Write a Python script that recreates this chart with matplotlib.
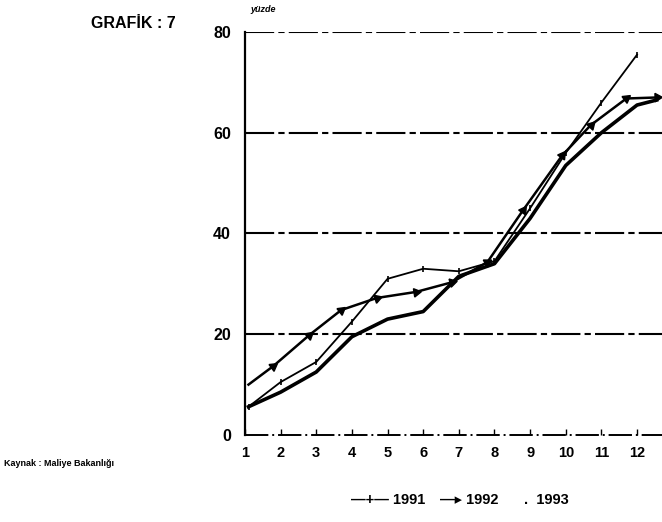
import numpy as np
import matplotlib.pyplot as plt

plt.rcParams['font.family'] = ['Liberation Sans', 'DejaVu Sans']
plt.rcParams['font.weight'] = 'bold'

# values (yuzde, by month)
months = [1, 2, 3, 4, 5, 6, 7, 8, 9, 10, 11, 12]
x_1991 = [1.1, 2, 3, 4, 5, 6, 7, 8, 9, 10, 11, 12]
y_1991 = [5.6, 10.5, 14.5, 22.5, 31, 33, 32.5, 34.5, 45, 56, 66, 75.5]

x_1992 = [1.1, 1.8, 2.8, 3.7, 4.7, 5.8, 6.8, 7.8, 8.8, 9.9, 10.7, 11.7, 12.55]
y_1992 = [10, 13.7, 19.8, 24.8, 27.2, 28.4, 30.3, 34.3, 44.6, 55.5, 61.5, 66.8, 67]

x_1993 = [1.1, 2, 3, 4, 5, 6, 7, 8, 9, 10, 11, 12, 12.55]
y_1993 = [5.6, 8.5, 12.5, 19.5, 23, 24.5, 31.5, 34, 43, 53.5, 60, 65.5, 66.5]

y_ticks = [0, 20, 40, 60, 80]

fig = plt.figure(figsize=(6.62, 5.22), dpi=100)
ax = fig.add_axes([0.370, 0.1667, 0.630, 0.772])
ax.set_xlim(1.1, 12.7)
ax.set_ylim(0, 80)

# dashed grid lines
for v in y_ticks[1:]:
    ax.axhline(v, color='black', lw=1.5, ls=(0, (14, 2, 3, 2)), zorder=1)
ax.axhline(0, color='black', lw=1.4, ls=(0, (12, 2, 1, 2)), zorder=1, clip_on=False)

ax.plot(x_1993, y_1993, color='black', lw=2.6, zorder=3)
ax.plot(x_1991, y_1991, color='black', lw=1.3, marker='|', ms=5, mew=1.2, zorder=3)
ax.plot(x_1992, y_1992, color='black', lw=1.8, zorder=3)

# arrow heads on 1992, pointing along the line
fig.canvas.draw()
pts = ax.transData.transform(np.column_stack([x_1992, y_1992]))
for i in range(1, len(x_1992)):
    dx, dy = pts[i] - pts[i - 1]
    ang = np.degrees(np.arctan2(dy, dx)) - 90
    ax.plot(x_1992[i], y_1992[i], marker=(3, 0, ang), ms=7, color='black', zorder=4)

for s in ['top', 'right', 'bottom']:
    ax.spines[s].set_visible(False)
ax.spines['left'].set_linewidth(1.6)

ax.set_xticks(months)
ax.set_xticklabels([str(m) for m in months], fontsize=10.5, fontweight='bold')
ax.tick_params(axis='x', direction='in', length=4, width=1, pad=8)
ax.set_yticks(y_ticks)
ax.set_yticklabels([str(v) for v in y_ticks], fontsize=11.5, fontweight='bold')
ax.tick_params(axis='y', length=0, pad=10)

fig.text(0.137, 0.955, 'GRAFİK : 7', fontsize=11.5, fontweight='bold', va='center')
fig.text(0.378, 0.982, 'yüzde', fontsize=6.5, fontweight='bold', style='italic', va='center')
fig.text(0.006, 0.113, 'Kaynak : Maliye Bakanlığı', fontsize=6.5, fontweight='bold', va='center')

# legend
fig.text(0.530, 0.042, '—+— 1991', fontsize=10.5, fontweight='bold', va='center')
fig.text(0.665, 0.042, '—▸ 1992', fontsize=10.5, fontweight='bold', va='center')
fig.text(0.792, 0.042, '.  1993', fontsize=10.5, fontweight='bold', va='center')

fig.savefig('out.png', dpi=100)
